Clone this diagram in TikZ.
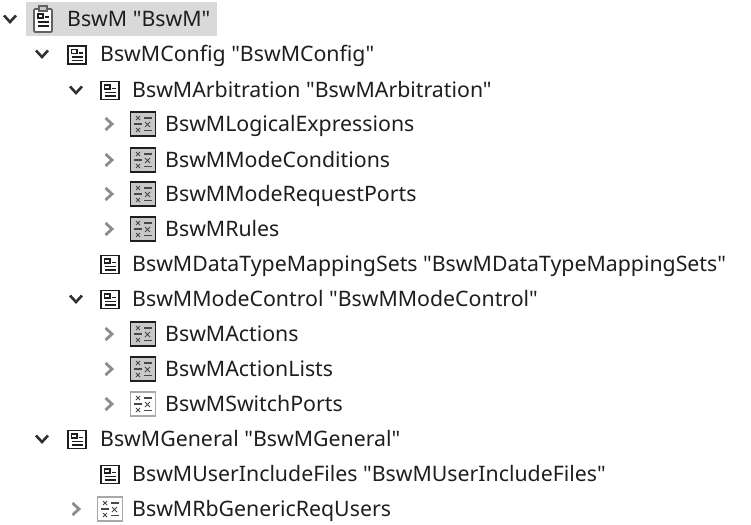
\documentclass[tikz,border=0pt]{standalone}
\usepackage{fontspec}
\setmainfont[Ligatures=TeXOff]{Noto Sans}
\definecolor{chevgray}{HTML}{8C8C8C}
\definecolor{chevdark}{HTML}{303030}
\definecolor{inkgray}{HTML}{1E1E1E}
\definecolor{markgray}{HTML}{484848}
\definecolor{rowgray}{HTML}{D9D9D9}
\definecolor{tabgray}{HTML}{C8C8C8}
\definecolor{lightgray}{HTML}{A8A8A8}
\tikzset{
  rowtext/.style={anchor=west,inner sep=0pt,text height=15pt,text depth=0pt,text=inkgray,font=\fontsize{21.3}{24}\selectfont},
  pics/chevdown/.style={code={
    \draw[chevdark,line width=2.6pt] (-6,-3.5) -- (0,3) -- (6,-3.5);}},
  pics/chevright/.style={code={
    \draw[chevgray,line width=2.8pt] (-3.5,-6) -- (3,0) -- (-3.5,6);}},
  pics/listicon/.style={code={
    \draw[inkgray,line width=1.7pt,fill=white] (-9,-8.5) rectangle (9,9.5);
    \draw[inkgray,line width=1.1pt] (-5.5,-5) rectangle (0,-1);
    \draw[inkgray,line width=1.2pt] (2,-1.5) -- (5.5,-1.5) (-5.5,2.5) -- (5.5,2.5) (-5.5,6) -- (5.5,6);}},
  pics/rooticon/.style={code={
    \draw[inkgray!70,line width=1.6pt,fill=white,rounded corners=1pt] (-9,-10) rectangle (9,13);
    \draw[inkgray!70,line width=1.4pt,fill=tabgray] (-4,-13) rectangle (4,-8);
    \draw[inkgray,line width=1.1pt] (-5,-5) rectangle (0,-1);
    \draw[inkgray,line width=1.2pt] (2,-2) -- (5.5,-2) (-5.5,3) -- (5.5,3) (-5.5,7) -- (5.5,7);}},
  pics/tableicon/.style n args={3}{code={
    \draw[#2,line width=1.6pt,fill=#1] (-12.5,-12) rectangle (12.5,12);
    \draw[#3,line width=0.8pt] (-7,-8) -- (-3,-4) (-7,-4) -- (-3,-8)
      (-7,4) -- (-3,8) (-7,8) -- (-3,4) (2,-2) -- (7,3) (2,3) -- (7,-2);
    \draw[#3,line width=1.1pt] (1,-6) -- (9,-6) (1,6.5) -- (9,6.5) (-9,0) -- (-1,0);}}
}
\begin{document}
\begin{tikzpicture}[x=1pt,y=-1pt]
\useasboundingbox (0,0) rectangle (751,524);
\fill[rowgray] (26,2) rectangle (217,36);
% top level
\pic at (10,19) {chevdown};
\pic at (43,19) {rooticon};
\node[rowtext] (root) at (67,19) {BswM "BswM"};
% config branch
\pic at (42,54) {chevdown};
\pic at (77,54.5) {listicon};
\node[rowtext] (config) at (100,54) {BswMConfig "BswMConfig"};
\pic at (76,90) {chevdown};
\pic at (110,90) {listicon};
\node[rowtext] (arbitration) at (132,90) {BswMArbitration "BswMArbitration"};
\pic at (109,124) {chevright};
\pic at (143,124) {tableicon={tabgray}{inkgray}{markgray}};
\node[rowtext] (logical) at (165,124) {BswMLogicalExpressions};
\pic at (109,160) {chevright};
\pic at (143,160) {tableicon={tabgray}{inkgray}{markgray}};
\node[rowtext] (conditions) at (165,160) {BswMModeConditions};
\pic at (109,194) {chevright};
\pic at (143,194) {tableicon={tabgray}{inkgray}{markgray}};
\node[rowtext] (requestports) at (165,194) {BswMModeRequestPorts};
\pic at (109,229) {chevright};
\pic at (143,229) {tableicon={tabgray}{inkgray}{markgray}};
\node[rowtext] (rules) at (165,229) {BswMRules};
\pic at (110,264) {listicon};
\node[rowtext] (datatype) at (132,264) {BswMDataTypeMappingSets "BswMDataTypeMappingSets"};
\pic at (76,299) {chevdown};
\pic at (110,299) {listicon};
\node[rowtext] (modecontrol) at (132,299) {BswMModeControl "BswMModeControl"};
\pic at (109,334) {chevright};
\pic at (143,334) {tableicon={tabgray}{inkgray}{markgray}};
\node[rowtext] (actions) at (165,334) {BswMActions};
\pic at (109,369) {chevright};
\pic at (143,369) {tableicon={tabgray}{inkgray}{markgray}};
\node[rowtext] (actionlists) at (165,369) {BswMActionLists};
\pic at (109,404) {chevright};
\pic at (143,404) {tableicon={white}{lightgray}{markgray}};
\node[rowtext] (switchports) at (165,404) {BswMSwitchPorts};
% general branch
\pic at (42,439) {chevdown};
\pic at (77,439) {listicon};
\node[rowtext] (general) at (100,439) {BswMGeneral "BswMGeneral"};
\pic at (110,474) {listicon};
\node[rowtext] (includefiles) at (132,474) {BswMUserIncludeFiles "BswMUserIncludeFiles"};
\pic at (76,509) {chevright};
\pic at (110,509) {tableicon={white}{lightgray}{markgray}};
\node[rowtext] (requsers) at (132,509) {BswMRbGenericReqUsers};
\end{tikzpicture}
\end{document}
